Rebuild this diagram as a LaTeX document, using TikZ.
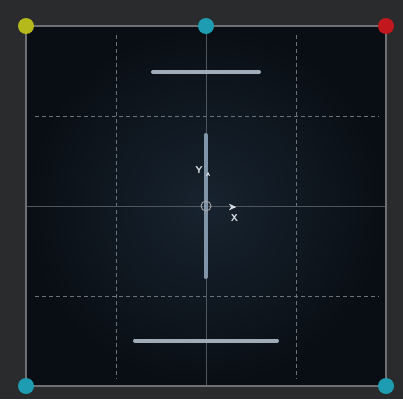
\documentclass[tikz,border=0pt]{standalone}
\usepackage{tikz}
\usetikzlibrary{arrows.meta, positioning, backgrounds}
\definecolor{panel}{HTML}{2A2B2D}
\definecolor{canvasin}{HTML}{17232F}
\definecolor{canvasout}{HTML}{090E14}
\definecolor{frameline}{HTML}{6E7073}
\definecolor{crossline}{HTML}{4F565E}
\definecolor{dashline}{HTML}{6B727A}
\definecolor{barlight}{HTML}{A0ADB8}
\definecolor{barblue}{HTML}{8095A8}
\definecolor{dotyellow}{HTML}{B6B91B}
\definecolor{dotteal}{HTML}{1E9CB1}
\definecolor{dotred}{HTML}{C2171D}
\definecolor{axislabel}{HTML}{D9DEE3}

\begin{document}
\begin{tikzpicture}[
    x=1pt, y=-1pt,
    every node/.style={font=\sffamily\bfseries\fontsize{10}{12}\selectfont},
    handle/.style={circle, inner sep=0pt, minimum size=16pt},
    guide/.style={dashline, line width=0.8pt, dash pattern=on 4pt off 3pt},
    cross/.style={crossline, line width=0.9pt},
    bar/.style={line width=4pt, line cap=round},
    axistext/.style={text=axislabel, inner sep=0pt},
]
\useasboundingbox (0,0) rectangle (403,399);
\fill[panel] (0,0) rectangle (403,399);
% canvas
\shade[inner color=canvasin, outer color=canvasout] (26,26) rectangle (386,386);
\foreach \g in {116,296} {
    \draw[guide] (\g,35) -- (\g,379);
    \draw[guide] (35,\g) -- (379,\g);
}
\draw[cross] (206,26) -- (206,386);
\draw[cross] (26,206) -- (386,206);
\draw[frameline, line width=1.4pt] (26,26) rectangle (386,386);
% bars
\draw[bar, barlight] (153,72) -- (259,72);
\draw[bar, barlight] (135,340.5) -- (277,340.5);
\draw[bar, barblue] (205.5,135) -- (205.5,277);
% origin and axes
\coordinate (origin) at (206,206);
\draw[cross, color=gray!70] (origin) circle (5pt);
\coordinate (ytip) at (208,172);
\coordinate (xtip) at (236,207);
\draw[axislabel, line width=0.1pt, -{Stealth[length=4pt, width=4pt]}] ([yshift=-1pt]ytip) -- (ytip);
\draw[axislabel, line width=0.1pt, -{Stealth[length=7pt, width=6.5pt]}] ([xshift=-1pt]xtip) -- (xtip);
\node[axistext] (ylab) at (199,170.5) {Y};
\node[axistext] (xlab) at (234.5,218.5) {X};
% corner handles
\node[handle, fill=dotyellow] (htl) at (26,26) {};
\node[handle, fill=dotteal] (htc) at (206,26) {};
\node[handle, fill=dotred] (htr) at (386,26) {};
\node[handle, fill=dotteal] (hbl) at (26,386) {};
\node[handle, fill=dotteal] (hbr) at (386,386) {};
\end{tikzpicture}
\end{document}
